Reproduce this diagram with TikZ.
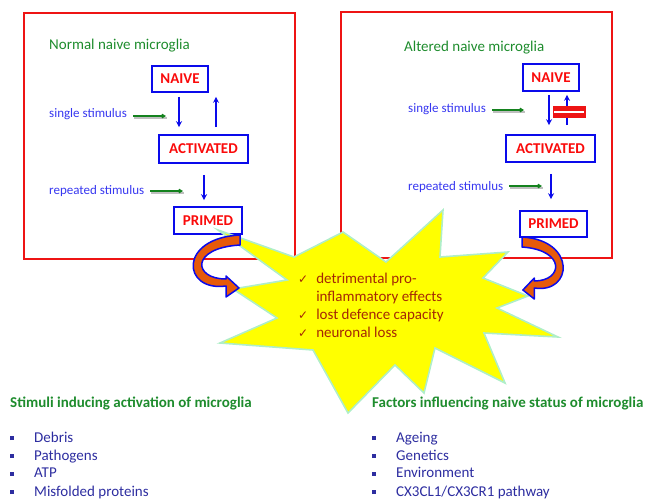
\documentclass[tikz,border=0pt]{standalone}
\usepackage{fontspec}
\setmainfont{Carlito}
\newfontfamily\symfont{DejaVu Sans}
\usetikzlibrary{arrows.meta,calc}
\definecolor{framered}{RGB}{238,20,20}
\definecolor{stateblue}{RGB}{10,10,235}
\definecolor{labred}{RGB}{250,10,10}
\definecolor{titlegreen}{RGB}{30,140,45}
\definecolor{stimblue}{RGB}{55,55,240}
\definecolor{itemblue}{RGB}{45,45,160}
\definecolor{starfill}{RGB}{255,255,0}
\definecolor{starline}{RGB}{175,238,200}
\definecolor{startext}{RGB}{165,40,5}
\definecolor{orangearr}{RGB}{230,90,10}
\definecolor{arrgreen}{RGB}{20,130,30}
\tikzset{
  frame/.style={draw=framered, line width=1.6pt, fill=none, inner sep=0pt},
  state/.style={draw=stateblue, line width=1.6pt, fill=white, text=labred, inner sep=0pt,
    font=\bfseries\fontsize{15}{15}\selectfont},
  titletext/.style={text=titlegreen, inner sep=0pt, anchor=base west, font=\fontsize{15}{16}\selectfont},
  headtext/.style={text=titlegreen, inner sep=0pt, anchor=base west, font=\bfseries\fontsize{15}{16}\selectfont},
  stimtext/.style={text=stimblue, inner sep=0pt, anchor=base west, font=\fontsize{13}{14}\selectfont},
  itemtext/.style={text=itemblue, inner sep=0pt, anchor=base west, font=\fontsize{15}{16}\selectfont},
  blarrow/.style={draw=stateblue, line width=1.6pt, -{Stealth[length=6pt,width=6pt]}},
  garrow/.style={draw=arrgreen, line width=1.8pt, -{Straight Barb[length=2.5pt,width=3pt]}},
  gshadow/.style={draw=black!25, line width=1.2pt},
  curvarrow/.style={fill=orangearr, draw=stateblue, line width=1.5pt, line join=round},
  startxt/.style={text=startext, inner sep=0pt, anchor=west, align=left,
    font=\fontsize{15}{18}\selectfont},
}
\newcommand{\bul}{\makebox[24pt][l]{\raisebox{2pt}{\rule{3.5pt}{4pt}}}}
\newcommand{\chk}{{\symfont\fontsize{12}{12}\selectfont ✓}}
\begin{document}
\begin{tikzpicture}[x=1pt,y=-1pt]
\useasboundingbox (0,0) rectangle (645,501);

% frames
\node[frame, minimum width=271pt, minimum height=246pt] (frameL) at (159.5,136) {};
\node[frame, minimum width=271pt, minimum height=246pt] (frameR) at (476.5,135) {};

% left panel
\node[titletext] (titleL) at (49,49) {Normal naive microglia};
\node[state, minimum width=56pt, minimum height=26pt] (naiveL) at (180,79) {NAIVE};
\node[state, minimum width=89pt, minimum height=28pt] (actL) at (203.5,149) {ACTIVATED};
\node[state, minimum width=68pt, minimum height=27pt] (primL) at (208,220.5) {PRIMED};
\draw[blarrow, shorten <=4pt, shorten >=7pt] ([xshift=-1pt]naiveL.south) -- ([xshift=-24.5pt]actL.north);
\draw[blarrow, shorten <=7pt, shorten >=4pt] ([xshift=12.5pt]actL.north) -- ([xshift=36pt]naiveL.south);
\draw[blarrow, shorten <=11pt, shorten >=6pt] ([xshift=0.5pt]actL.south) -- ([xshift=-4pt]primL.north);
\node[stimtext] (sgL) at (49,117) {single stimulus};
\node[stimtext] (rpL) at (49,194) {repeated stimulus};
\coordinate (sgLa) at (133,116); \coordinate (sgLb) at (166,116);
\coordinate (rpLa) at (150,191); \coordinate (rpLb) at (183,191);

% right panel
\node[titletext] (titleR) at (404,51) {Altered naive microglia};
\node[state, minimum width=56pt, minimum height=27pt] (naiveR) at (551,77.5) {NAIVE};
\node[state, minimum width=89pt, minimum height=27pt] (actR) at (550.5,148.5) {ACTIVATED};
\node[state, minimum width=67pt, minimum height=26pt] (primR) at (553.5,224) {PRIMED};
\draw[blarrow, shorten <=3pt, shorten >=9pt] ([xshift=-2pt]naiveR.south) -- ([xshift=-1.5pt]actR.north);
\draw[blarrow, shorten <=9pt, shorten >=3pt] ([xshift=16.5pt]actR.north) -- ([xshift=16pt]naiveR.south);
\draw[blarrow, shorten <=11pt, shorten >=11pt] ([xshift=0.5pt]actR.south) -- ([xshift=-2.5pt]primR.north);
\node[draw=framered, fill=framered, line width=0.8pt, minimum width=32pt, minimum height=11pt, inner sep=0pt] (blk) at (569,111.5) {};
\draw[white, line width=2pt, shorten <=1.5pt, shorten >=1.5pt] (blk.west) -- (blk.east);
\node[stimtext] (sgR) at (408,112) {single stimulus};
\node[stimtext] (rpR) at (408,190) {repeated stimulus};
\coordinate (sgRa) at (492,110); \coordinate (sgRb) at (524,110);
\coordinate (rpRa) at (509,186); \coordinate (rpRb) at (542,186);

% green stimulus arrows
\foreach \a/\b in {sgLa/sgLb, rpLa/rpLb, sgRa/sgRb, rpRa/rpRb}{
  \draw[gshadow] ([shift={(1pt,-2pt)}]\a) -- ([shift={(1pt,-2pt)}]\b);
  \draw[garrow] (\a) -- (\b);
}

% starburst
\filldraw[fill=starfill, draw=starline, line width=1.6pt, line join=miter]
  (218,230) -- (294,257) -- (343,232) -- (386,262) -- (443,210) -- (440,257)
  -- (508,252) -- (483,278) -- (528,296) -- (497,308) -- (558,337) -- (484,333)
  -- (505,383) -- (435,348) -- (424,393) -- (395,365) -- (348,413) -- (313,350)
  -- (220,343) -- (277,318) -- (233,289) -- (287,280) -- cycle;

% curved arrows
\filldraw[curvarrow] (240,235) .. controls (178,238) and (182,292) .. (226,286)
  -- (226,297) -- (239,288) -- (226,276) -- (226,279)
  .. controls (193,279) and (190,248) .. (240,245) -- cycle;
\begin{scope}[shift={(733.2,2)}, xscale=-0.88]
\filldraw[curvarrow] (240,235) .. controls (178,238) and (182,292) .. (226,286)
  -- (226,297) -- (239,288) -- (226,276) -- (226,279)
  .. controls (193,279) and (190,248) .. (240,245) -- cycle;
\end{scope}

% star text
\node[startxt] (effects) at (298,306.5) {%
  \begin{tabular}{@{}l@{\hspace{8pt}}l@{}}
  \chk & detrimental pro-\\
       & inflammatory effects\\
  \chk & lost defence capacity\\
  \chk & neuronal loss
  \end{tabular}};

% bottom lists
\node[headtext] (headL) at (10,407) {Stimuli inducing activation of microglia};
\node[itemtext] (iL1) at (10,442) {\bul Debris};
\node[itemtext] (iL2) at (10,460) {\bul Pathogens};
\node[itemtext] (iL3) at (10,477.5) {\bul ATP};
\node[itemtext] (iL4) at (10,496) {\bul Misfolded proteins};

\node[headtext] (headR) at (372,407) {Factors influencing naive status of microglia};
\node[itemtext] (iR1) at (372,442) {\bul Ageing};
\node[itemtext] (iR2) at (372,460) {\bul Genetics};
\node[itemtext] (iR3) at (372,477.5) {\bul Environment};
\node[itemtext] (iR4) at (372,496) {\bul CX3CL1/CX3CR1 pathway};
\end{tikzpicture}
\end{document}
